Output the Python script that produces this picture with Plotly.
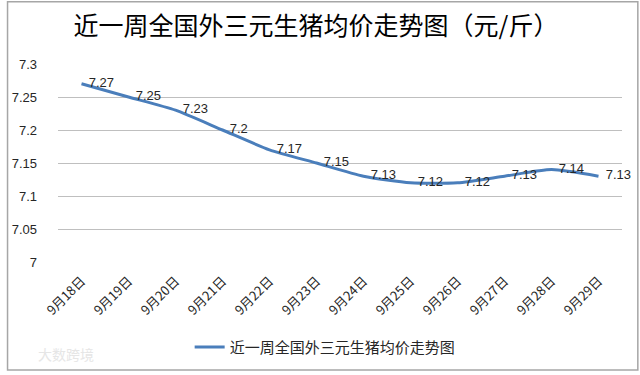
import plotly.graph_objects as go

categories = ["9月18日", "9月19日", "9月20日", "9月21日", "9月22日", "9月23日",
              "9月24日", "9月25日", "9月26日", "9月27日", "9月28日", "9月29日"]
prices = [7.27, 7.25, 7.23, 7.20, 7.17, 7.15, 7.13, 7.12, 7.12, 7.13, 7.14, 7.13]
price_labels = ["7.27", "7.25", "7.23", "7.2", "7.17", "7.15", "7.13", "7.12", "7.12", "7.13", "7.14", "7.13"]
series_name = "近一周全国外三元生猪均价走势图"
title_text = "近一周全国外三元生猪均价走势图（元/斤）"
y_ticks = [7.0, 7.05, 7.1, 7.15, 7.2, 7.25, 7.3]
y_tick_text = ["7", "7.05", "7.1", "7.15", "7.2", "7.25", "7.3"]

W, H = 640, 375
L, R, T, B = 52, 18, 64, 111
pw, ph = W - L - R, H - T - B

cjk = "Noto Sans CJK SC, Noto Sans, sans-serif"
num = "Liberation Sans, Noto Sans, sans-serif"

fig = go.Figure()
fig.add_trace(go.Scatter(
    x=categories, y=prices, name=series_name,
    mode="lines+text", text=price_labels, textposition="middle right",
    texttemplate="  %{text}",
    textfont=dict(family=num, size=13, color="#262626"),
    line=dict(color="#4a7ebb", width=3, shape="spline", smoothing=0.6),
    cliponaxis=False, hoverinfo="skip",
))

fig.update_layout(
    width=W, height=H,
    margin=dict(l=L, r=R, t=T, b=B),
    paper_bgcolor="white", plot_bgcolor="white",
    title=dict(text=title_text, x=316 / W, xanchor="center", xref="container",
               y=1 - 26 / H, yanchor="middle",
               font=dict(family=cjk, size=25, color="#000000")),
    xaxis=dict(type="category", tickangle=-45, showgrid=False, showline=False,
               ticks="", ticklabelstandoff=8,
               tickfont=dict(family=cjk, size=13, color="#262626"),
               range=[-0.5, len(categories) - 0.5]),
    yaxis=dict(range=[7.0, 7.3], tickvals=y_ticks, ticktext=y_tick_text,
               showgrid=True, gridcolor="#bfbfbf", gridwidth=1, zeroline=False,
               showline=False, ticks="", ticklabelstandoff=20,
               tickfont=dict(family=num, size=13, color="#262626")),
    showlegend=True,
    legend=dict(orientation="h", x=(322 - L) / pw, xanchor="center", y=-(350 - 264) / ph,
                yanchor="middle", font=dict(family=cjk, size=15, color="#262626"),
                bgcolor="rgba(0,0,0,0)"),
)

# outer chart border
fig.add_shape(type="rect", xref="paper", yref="paper",
              x0=(1 - L) / pw, x1=(W - L - 2) / pw,
              y0=-(B - 2) / ph, y1=(ph + T - 1) / ph,
              line=dict(color="#a6a6a6", width=1.5), fillcolor="rgba(0,0,0,0)", layer="below")

# faint watermark
fig.add_annotation(text="大数跨境", xref="paper", yref="paper",
                   x=(30 - L) / pw, y=-(357 - 264) / ph, xanchor="left", yanchor="middle",
                   showarrow=False, font=dict(family=cjk, size=14, color="#e6e6e6"))

fig.write_html("out.html", config={"displayModeBar": False},
               post_script="document.body.style.margin='0';document.body.style.overflow='hidden';")
